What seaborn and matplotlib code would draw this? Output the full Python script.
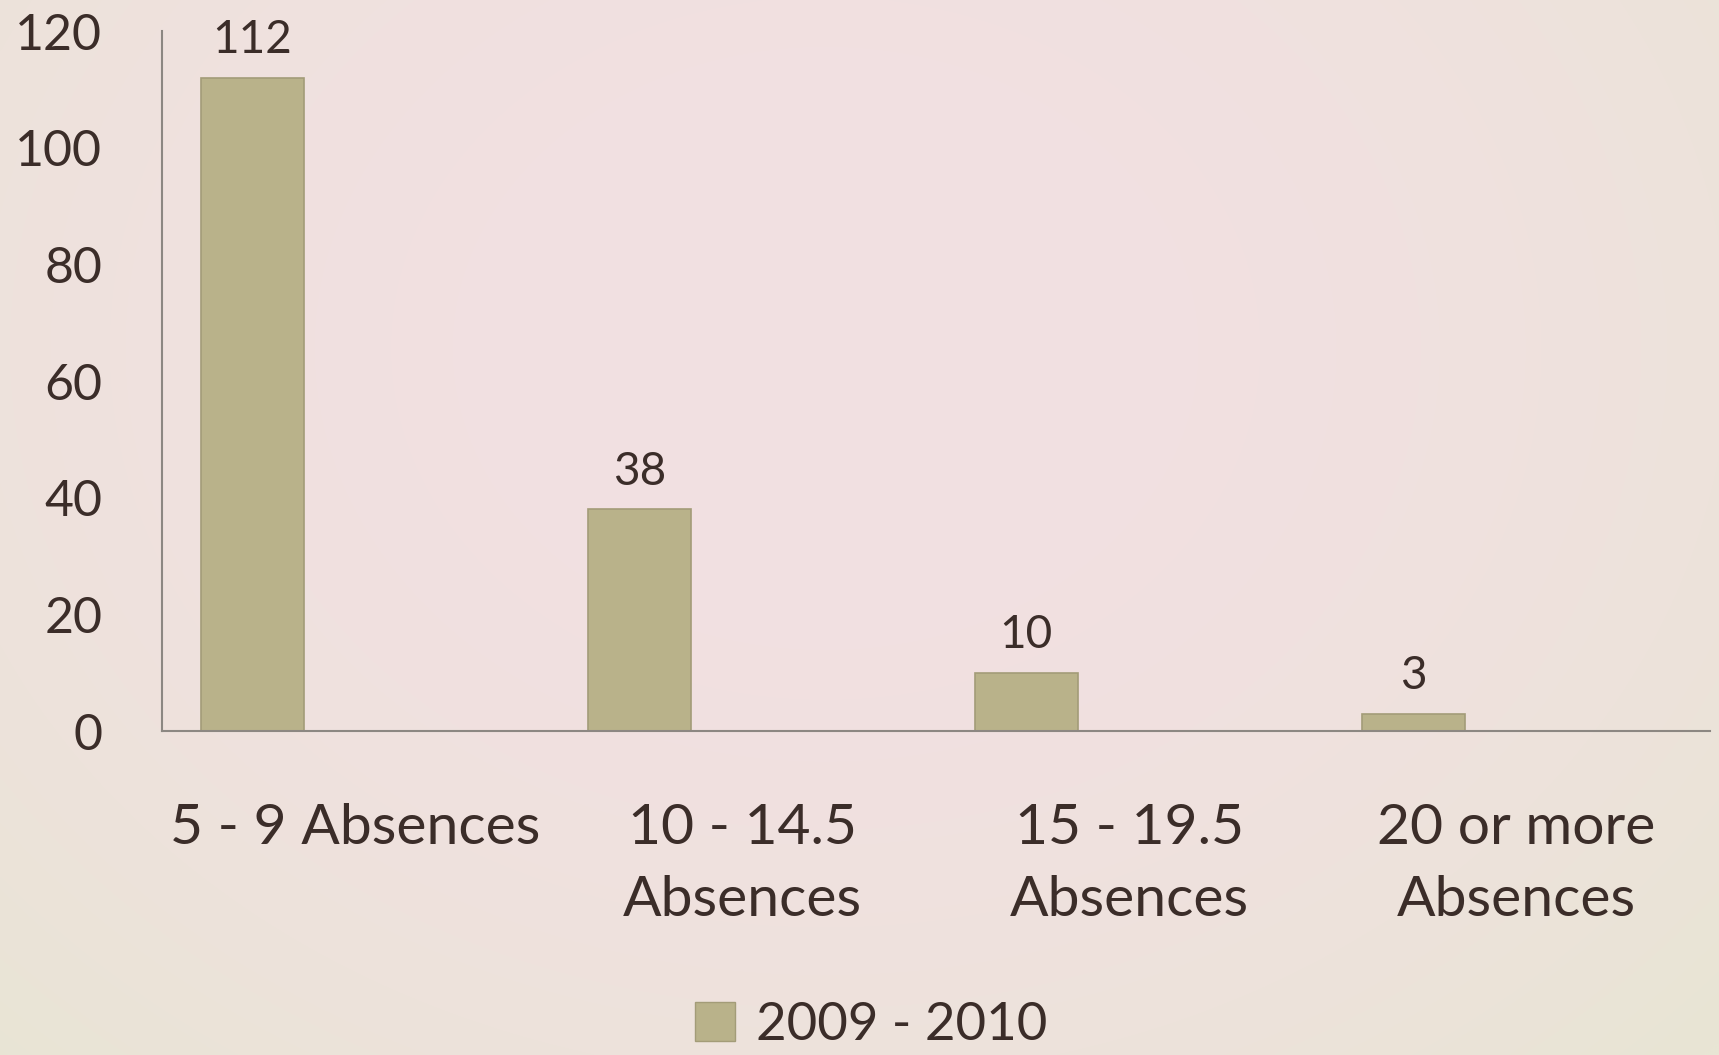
import numpy as np
import pandas as pd
import matplotlib
matplotlib.use('Agg')
from matplotlib import pyplot as plt
from matplotlib.patches import Patch
import seaborn as sns

categories = ["5 - 9 Absences", "10 - 14.5\nAbsences", "15 - 19.5\nAbsences", "20 or more\nAbsences"]
values = [112, 38, 10, 3]
series_name = "2009 - 2010"
y_ticks = [0, 20, 40, 60, 80, 100, 120]

sns.set_theme(style="white")
plt.rcParams['font.family'] = ['Lato', 'DejaVu Sans']

text_color = "#3b2d29"
bar_color = "#b9b28a"
bar_edge = "#a39c78"
axis_color = "#8c8782"

fig = plt.figure(figsize=(17.19, 10.55), dpi=100)

# soft pink-to-beige backdrop
bg = fig.add_axes([0, 0, 1, 1], zorder=-1)
yy, xx = np.mgrid[0:1:600j, 0:1:1000j]
r = np.sqrt(((xx - 0.48) / 0.72) ** 2 + ((yy - 0.33) / 0.95) ** 2)
r = np.clip(r, 0, 1)
t = r ** 2.2
pink = np.array([242, 224, 226]) / 255
beige = np.array([232, 229, 212]) / 255
img = pink + (beige - pink) * t[..., None]
bg.imshow(img, aspect='auto', extent=[0, 1, 0, 1], origin='upper', interpolation='bilinear')
bg.axis('off')

ax = fig.add_axes([0.0942, 0.3071, 0.9006, 0.6635])
ax.set_facecolor("none")

df = pd.DataFrame({"category": categories, "value": values, "series": series_name})
# Excel-style layout: the single series sits in the first of three slots
hue_order = [series_name, "_pad1", "_pad2"]
sns.barplot(df, x="category", y="value", hue="series", hue_order=hue_order,
            palette=[bar_color] * 3, width=0.8, dodge=True, legend=False,
            saturation=1, edgecolor=bar_edge, linewidth=1.2, ax=ax)

for container in ax.containers:
    ax.bar_label(container, padding=12, fontsize=33, color=text_color)

ax.set_xlim(-0.5, len(categories) - 0.5)
ax.set_ylim(0, 120)
ax.set_yticks(y_ticks)
ax.set_xlabel("")
ax.set_ylabel("")

for side in ["top", "right"]:
    ax.spines[side].set_visible(False)
for side in ["left", "bottom"]:
    ax.spines[side].set_color(axis_color)
    ax.spines[side].set_linewidth(1.5)

ax.tick_params(axis='y', length=0, pad=43, labelsize=36, colors=text_color)
ax.tick_params(axis='x', length=0, pad=52, labelsize=41, colors=text_color)
for lbl in ax.get_xticklabels():
    lbl.set_linespacing(1.5)

fig.legend(handles=[Patch(facecolor=bar_color, edgecolor=bar_edge, label=series_name)],
           loc='center', bbox_to_anchor=(0.507, 0.028), frameon=False, fontsize=38,
           handlelength=0.75, handleheight=0.75, handletextpad=0.4, labelcolor=text_color)

fig.savefig('out.png', dpi=100)
